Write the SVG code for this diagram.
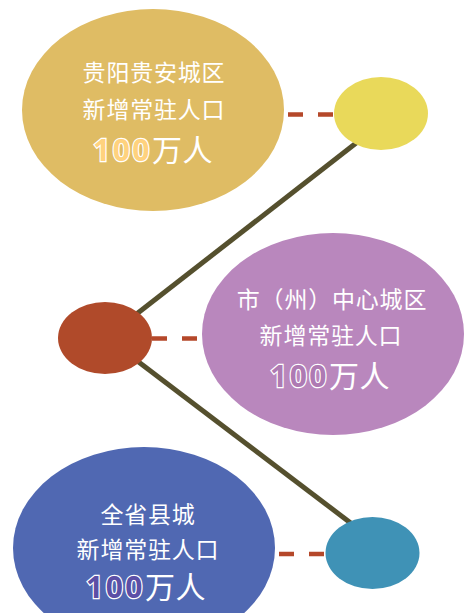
<svg xmlns="http://www.w3.org/2000/svg" width="465" height="613" viewBox="0 0 465 613">
<style>
.t{font-family:"Noto Sans CJK SC","Noto Sans",sans-serif;fill:#FFFFFF;text-anchor:middle;font-size:23px;letter-spacing:0.8px;}
.big{font-size:30px;letter-spacing:0.5px;}
.num{font-family:"Noto Sans","Noto Sans CJK SC",sans-serif;font-weight:bold;stroke:#FFFFFF;stroke-width:2.4px;paint-order:stroke;letter-spacing:2.5px;}
.dash{stroke:#B5482A;stroke-width:4.5;fill:none;stroke-dasharray:15 15;}
.conn{stroke:#55502E;stroke-width:5;fill:none;}
</style>
<rect width="465" height="613" fill="#FFFFFF"/>
<g id="connectors">
<line class="conn" x1="360" y1="140" x2="134" y2="316"/>
<line class="conn" x1="136" y1="360" x2="352" y2="524"/>
<line class="dash" x1="288" y1="114.5" x2="334" y2="114.5"/>
<line class="dash" x1="152" y1="338.5" x2="199" y2="338.5"/>
<line class="dash" x1="279" y1="554" x2="326" y2="554"/>
</g>
<g id="node-guiyang">
<ellipse cx="153" cy="110" rx="131" ry="101" fill="#DFBC64"/>
<text class="t" x="154" y="81">贵阳贵安城区</text>
<text class="t" x="154" y="118">新增常驻人口</text>
<text class="t big" x="153" y="161"><tspan class="num" style="fill:#FFD27E">100</tspan>万人</text>
</g>
<g id="node-yellow">
<ellipse cx="381" cy="113.5" rx="47" ry="36.5" fill="#E9D95A"/>
</g>
<g id="node-hub">
<ellipse cx="105" cy="338" rx="47" ry="36" fill="#B04A2A"/>
</g>
<g id="node-city">
<ellipse cx="333" cy="334" rx="131" ry="101" fill="#B987BD"/>
<text class="t" x="332" y="308">市（州）中心城区</text>
<text class="t" x="331" y="344">新增常驻人口</text>
<text class="t big" x="330" y="387"><tspan class="num" style="fill:#AE7AB3">100</tspan>万人</text>
</g>
<g id="node-county">
<ellipse cx="144" cy="548" rx="131" ry="101" fill="#5068B2"/>
<text class="t" x="148" y="523">全省县城</text>
<text class="t" x="148" y="558">新增常驻人口</text>
<text class="t big" x="146" y="598"><tspan class="num" style="fill:#5C4FA6">100</tspan>万人</text>
</g>
<g id="node-teal">
<ellipse cx="372.5" cy="553" rx="47" ry="36" fill="#3F92B6"/>
</g>
</svg>
